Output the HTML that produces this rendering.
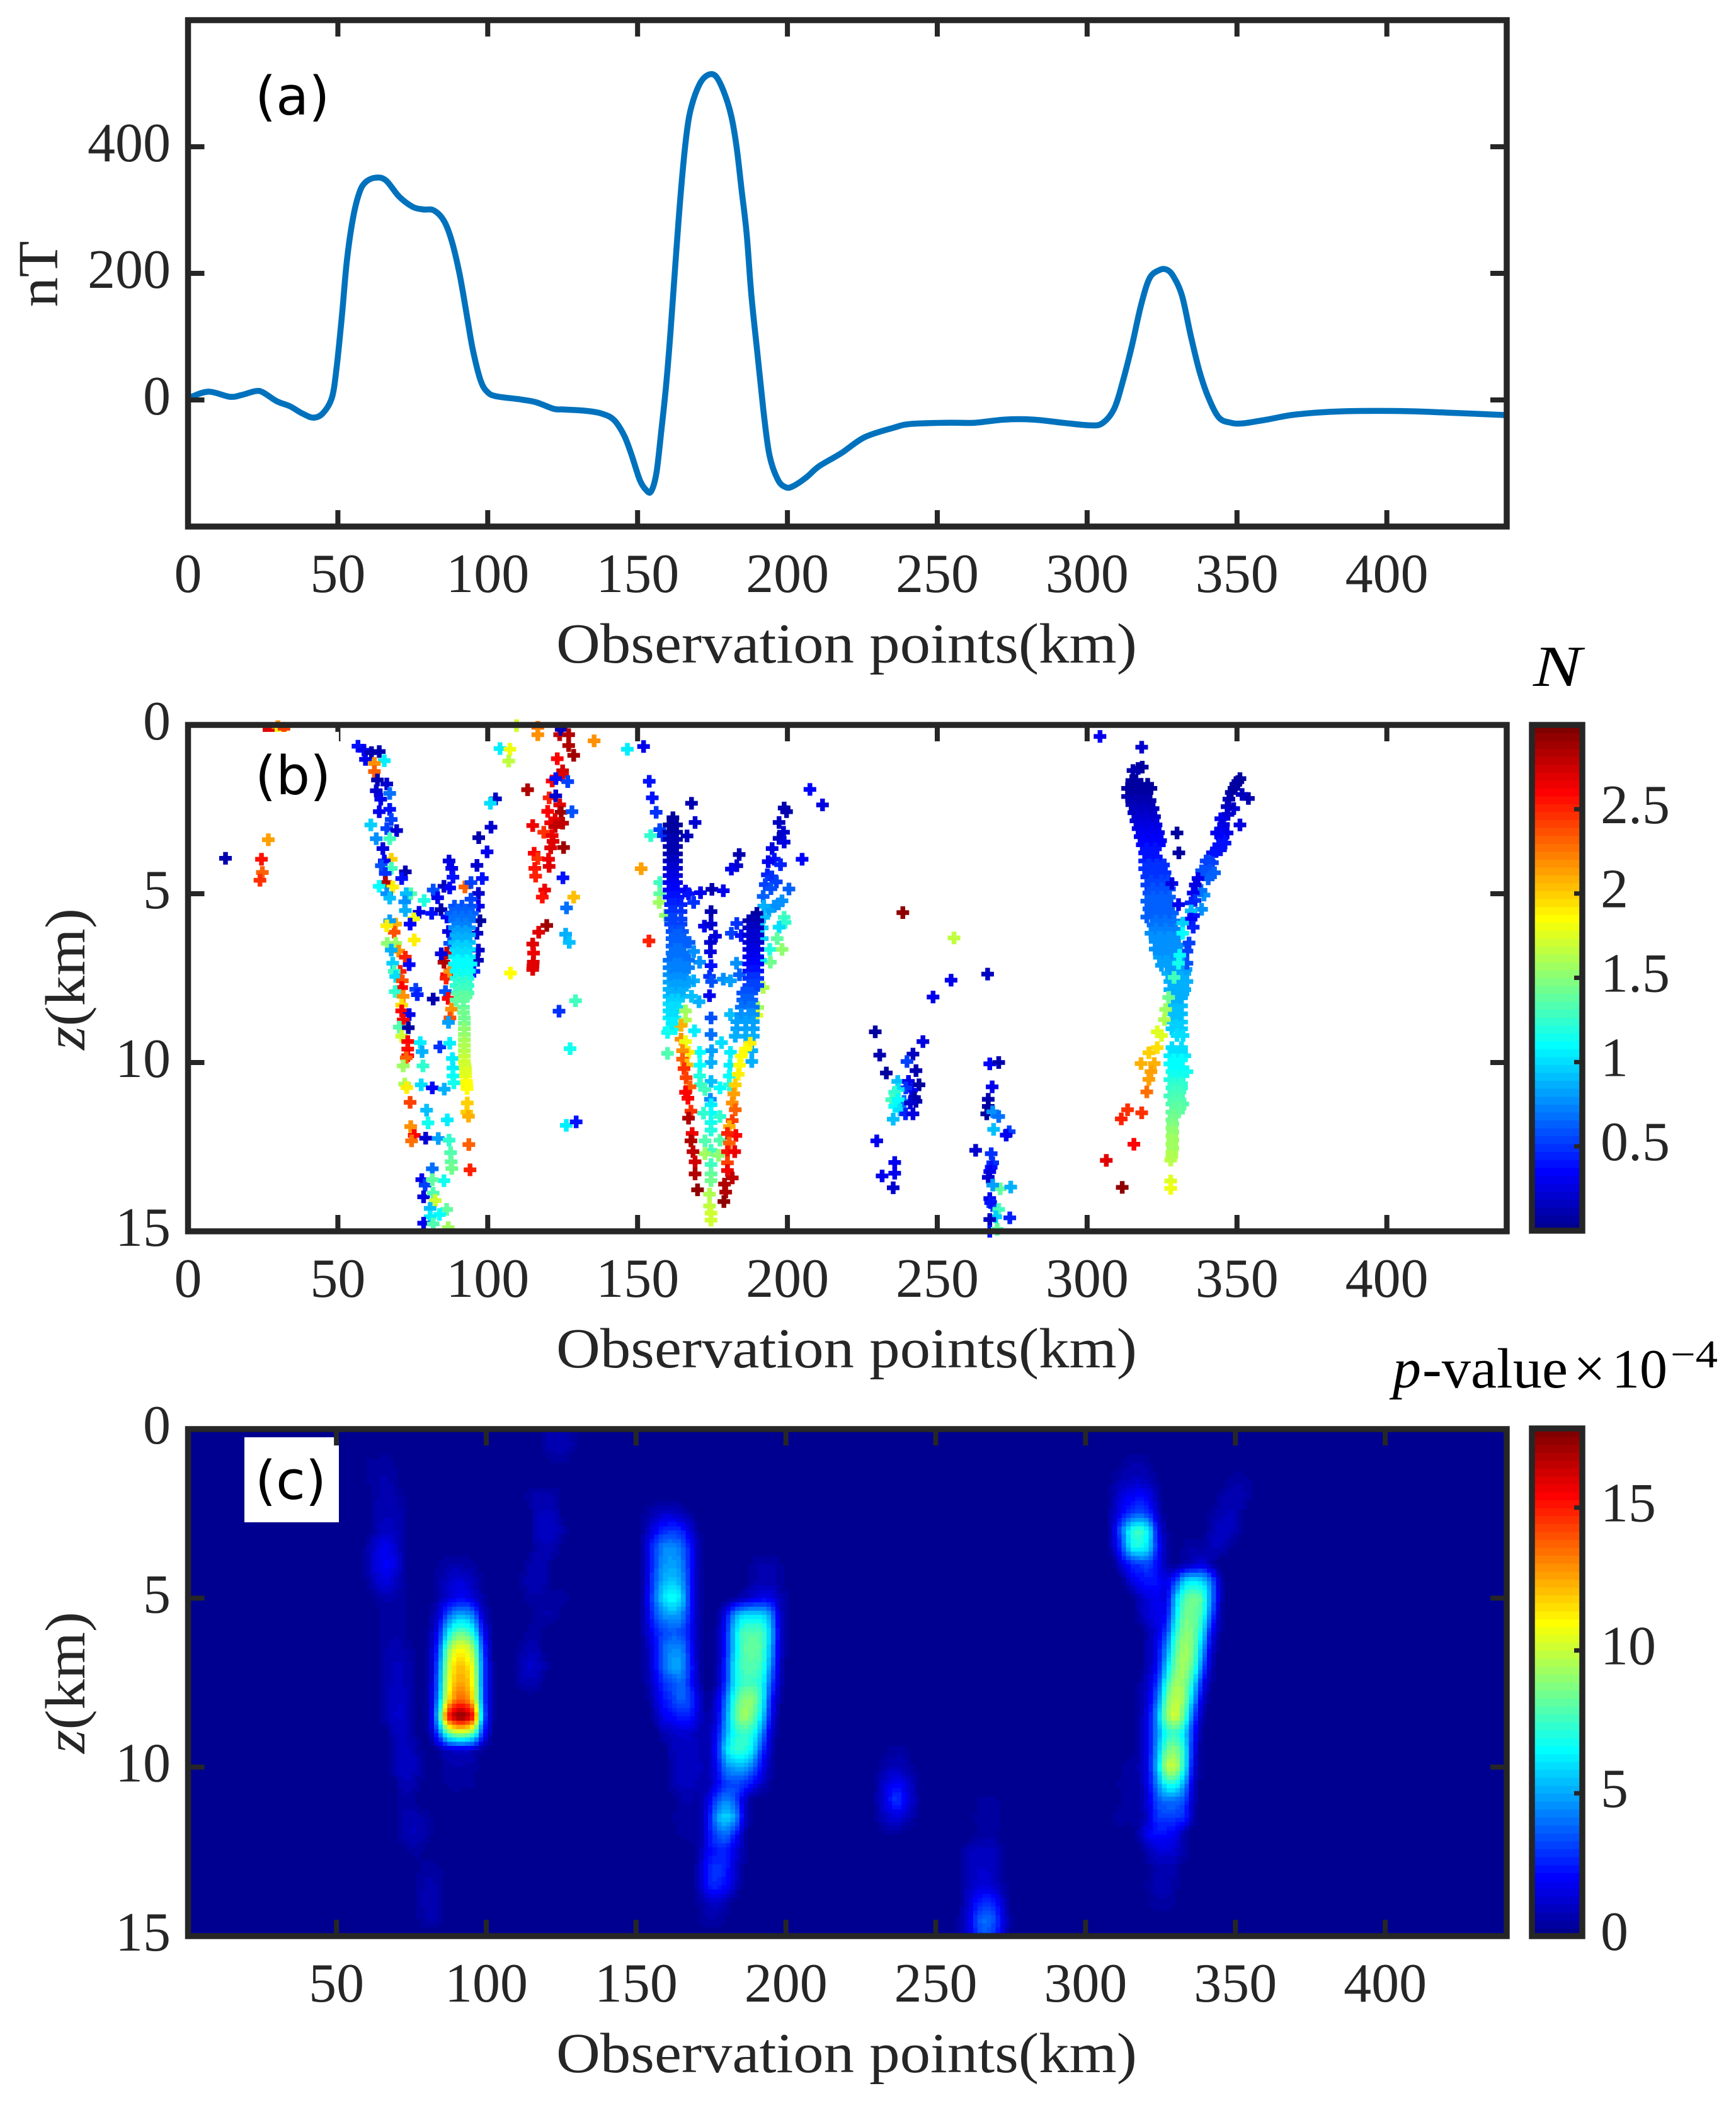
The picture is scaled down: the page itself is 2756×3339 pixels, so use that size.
<!DOCTYPE html>
<html lang="en">
<head>
<meta charset="utf-8">
<title>Magnetic anomaly profile and depth solutions</title>
<style>
html,body{margin:0;padding:0;background:#fff}
svg{display:block}
text{font-family:"Liberation Serif",serif;fill:#262626}
.tick{font-size:88px}
.axl{font-size:90px}
.pl{font-family:"DejaVu Sans",sans-serif;font-size:85px;fill:#000}
.blk{fill:#000}
</style>
</head>
<body>
<svg id="fig" xmlns="http://www.w3.org/2000/svg" width="2756" height="3339" viewBox="0 0 2756 3339">
<defs><clipPath id="clipC"><rect x="298.5" y="2269" width="2094" height="805"/></clipPath></defs>
<rect width="2756" height="3339" fill="#fff"/>
<g id="panelA"></g>
<g id="panelB"></g>
<g id="panelC"></g>
<g id="cbarB"></g>
<g id="cbarC"></g>

<text class="axl" text-anchor="middle" transform="translate(91,435) rotate(-90)" textLength="105" lengthAdjust="spacingAndGlyphs">nT</text>
<text class="axl" x="883" y="1052" textLength="922" lengthAdjust="spacingAndGlyphs">Observation points(km)</text>
<text class="axl" x="883" y="2171" textLength="922" lengthAdjust="spacingAndGlyphs">Observation points(km)</text>
<text class="axl" x="883" y="3290" textLength="922" lengthAdjust="spacingAndGlyphs">Observation points(km)</text>
<text class="axl" transform="translate(134,1667) rotate(-90)" textLength="225" lengthAdjust="spacingAndGlyphs"><tspan font-style="italic">z</tspan>(km)</text>
<text class="axl" transform="translate(134,2784) rotate(-90)" textLength="225" lengthAdjust="spacingAndGlyphs"><tspan font-style="italic">z</tspan>(km)</text>

<text class="pl" x="405" y="182">(a)</text>
<text class="blk" x="2434" y="1089" font-size="92" font-style="italic" textLength="77" lengthAdjust="spacingAndGlyphs">N</text>
<g>
<text class="blk" x="2211" y="2203" font-size="90" font-style="italic">p</text>
<text class="blk" x="2258" y="2203" font-size="90" textLength="231" lengthAdjust="spacingAndGlyphs">-value</text>
<text class="blk" x="2498" y="2203" font-size="90">×</text>
<text class="blk" x="2559" y="2203" font-size="88">10</text>
<text class="blk" x="2652" y="2171" font-size="62" textLength="75" lengthAdjust="spacingAndGlyphs">−4</text>
</g>
</svg>
<script>
/* ---------- panel (a) data ---------- */
const curveKm = [0,1.4,7,14,18,22.6,25,29.6,34,38,41.8,45,48,49.6,51.4,53,55,57,59,62.4,66,70.5,75,78.4,82,85.4,88,90.6,93.2,95,97.6,100,103,110,116,122,125.4,132.4,137.6,142,145.5,148,150.7,152.8,154.5,156.3,158,159.4,161,162.9,164.6,166.4,168,170.7,173.3,176,178.6,181.2,183,184.7,186.4,188,190,192,194,196.8,199.5,202,206.4,210.5,218,225.7,235.4,241,253,262.6,272.4,282,291.8,300.6,305,309,312,315,318,320.8,324,326.5,328.8,331.7,334.6,337.5,340.5,344,348,352,360,369.6,385,404.6,420,440];
const curveNT = [3,5.6,13,5,8,14,12,-2,-10,-21,-28,-21,3.5,52,136,220,286,325,343,351,347,321,305,301,299.5,283,251,199,129,80,31,12,5.6,1.4,-3.5,-14,-15,-17,-21,-31,-56,-87,-126,-142,-144.5,-115,-45,17,108,234,338,422,464,499,513,512,489,450,401,332,262,164,73,-17,-87,-126,-138,-136,-122,-105,-84,-59,-44,-38,-36,-36,-31,-31,-36,-40,-37,-14,31,87,150,192,205,206,195,164,101,45,3.5,-28,-36,-37,-31,-23,-18,-17.5,-20,-24];
const xTicksAB = [0,50,100,150,200,250,300,350,400];
const yTicksA = [0,200,400];
const xTicksC = [50,100,150,200,250,300,350,400];
const zTicks = [0,5,10,15];
const nTicks = ['0.5','1','1.5','2','2.5'];
const pTicks = ['0','5','10','15'];

/* ---------- panel (b) data : [km, depth, N] ---------- */
const straySources = [
[27,.15,2.7],[30,.05,2.2],[31,.15,1.8],[32,.1,2.4],[12.5,3.95,.1],[26.8,3.4,2.15],[24.5,3.98,2.55],[24.8,4.37,2.3],[24,4.6,2.45],
[56.7,.63,.4],[58.7,.75,.3],[59.2,1.02,.3],[61.2,.82,.1],[63.8,.79,.1],[65.5,1.06,1.05],[62.2,1.14,2.2],[62.2,1.38,2.3],[63.2,1.63,.1],[66.3,1.75,.2],[62.8,1.95,.2],[67.3,2.03,.7],[64.3,2.2,.3],[63.8,2.57,.3],[67.3,2.5,.4],[67.8,2.8,.55],[61,2.96,.95],[66.3,3.07,.55],[69.6,3.13,.2],[62.8,3.37,.75],[67.3,3.37,1.3],[65,3.66,.25],[67.8,3.98,2],[65.5,4.03,.35],[64.5,4.17,.6],[67.8,4.25,1.3],[65.8,4.4,.5],[72.5,4.35,.1],[71.3,4.55,.4],[65.9,4.67,2.85],[68.3,4.8,1.9],[63.8,4.78,1.1],[66.3,5,.75],[67.3,5.13,.9],[74.3,5,1.35],[72.8,5,.9],[72.3,5.24,.75],[72.5,5.5,.85],[78.8,5.2,1.2],[77.1,5.55,.3],[69.3,5.9,2.1],[67.3,5.8,.8],[68.8,6.14,2.35],[66.3,5.95,1.9],[75.3,5.74,1.8],[74.1,5.9,.35],[75.5,6.37,1.9],[69.3,6.47,1.55],[66.5,6.47,1.5],[70.3,6.7,2.2],[67.8,6.67,.85],[72.5,6.88,2.5],[68.3,7.06,.95],[73.8,7.1,.35],[70.8,7.3,2.5],[68.8,7.3,1.3],[69.3,7.45,1],[71.5,7.58,2.35],[71.3,7.78,2.6],[69.1,7.9,1.25],[71.8,8.04,2.2],[71.3,8.3,1.95],[71.3,8.47,2.6],[73.8,8.58,.3],[71.8,8.74,2.6],[70.5,8.95,1.35],[73.5,8.97,.08],[71.3,9.22,1.7],[73.3,9.38,2.6],[73.3,9.6,2.55],[73.3,9.8,2.6],[72.8,9.86,2.3],[71.8,10.1,1.55],[78.4,10.1,1.25],[72.3,10.64,1.6],[73,10.74,1.9],[74.1,11.18,2.4],[74.3,11.9,2.2],[75.5,12.16,2.6],[74.6,12.32,2.25],[77.5,9.41,1.05],[78.1,9.68,.85],[84,9.54,.5],[87.3,9.43,1.05],[77.8,10.66,1],[81.5,10.75,.35],[85.5,10.79,.85],[79.6,11.41,.9],[80.1,11.79,1.15],[86.5,11.7,1.05],[79.3,12.24,.2],[83.5,12.25,.8],[87.1,12.3,1.25],[87.6,12.67,1.35],[87.8,12.94,1.4],[88,13.14,1.45],[93.7,12.43,2.3],[94.1,13.18,2.5],[81.5,13.15,.7],[78,13.47,.3],[79.1,13.63,.55],[85.4,13.5,1.15],[81.5,13.47,1.4],[78.6,13.98,.25],[81.8,13.87,1.35],[82.5,14.09,1.7],[80.8,14.32,.9],[86.3,14.35,1.4],[83.9,14.5,1.1],[80.8,14.57,1.05],[78.6,14.76,.3],[81.8,14.78,1.35],[86.8,14.89,1.55],
[87.1,4.03,.25],[88,4.25,.3],[88.4,4.51,.4],[85.4,4.78,.15],[87.3,4.83,.35],[81.8,4.89,.6],[83.3,5.12,.3],[81.3,5.58,.4],[84.4,5.47,.1],[86.4,5.69,.35],[92.4,4.8,2.3],[94.4,4.67,.55],[96.9,4.99,.2],[98.2,4.55,.4],[96.4,4.16,.2],[94.4,5.16,.55],[96.9,5.37,.3],[97.4,5.8,.08],[96.4,6.17,.2],[96.9,6.67,.2],[96.6,6.97,.15],[95.4,7.3,.45],[86.9,6.12,.25],[87.3,6.47,.6],[85.4,7.03,2.85],[86.3,6.76,2.75],[84.5,6.78,.25],[86.3,7.4,2.6],[86.1,7.5,2.5],[87.3,7.3,2.2],[76,7.83,.55],[76.5,7.99,.45],[81.8,8.12,.1],[85.9,7.9,.6],[86.8,8.1,2.6],[87.9,8.42,2.2],[87.4,8.68,2.35],[86.9,8.81,.8],
[88.2,9.88,1.05],[88.4,10.16,1.05],[88.4,10.4,1.1],[88.7,10.6,1.15],
[102.6,2.19,.15],[100.9,2.32,1],[101.1,3.03,.2],[97,3.34,.1],[99.8,3.76,.3],
[109.6,.02,1.7],[104.1,.7,1.05],[107.4,.72,1.8],[107,1.07,1.65],[107.6,7.35,1.87],[116.7,.07,2.25],[116.7,.29,2.2],[124,.29,2.8],[124.5,.13,.15],[127,.29,2.85],[127,.61,2.85],[128.7,.9,2.9],[123.2,1,2.6],[135.5,.47,2.2],[146.6,.72,1.05],[152,.64,.3],[113.3,1.92,2.85],[125,1.36,2.75],[125,1.5,2.7],[121.5,1.66,2.6],[122.7,1.59,.4],[126.7,1.68,.55],[120.5,2.16,2.5],[122.7,2.1,.2],[124,2.37,2.7],[120,2.56,2.6],[124.5,2.59,2.9],[128.1,2.57,.6],[122.5,2.8,2.7],[125,2.91,2.8],[121,2.9,2.65],[122.5,3.01,2.8],[115,2.98,2.65],[118.7,3.18,2.45],[121.5,3.28,2.65],[121.8,3.45,2.7],[121,3.64,2.7],[125.3,3.63,2.9],[115.5,3.8,2.6],[116.7,3.96,2.45],[120.3,3.98,2.65],[120.5,4.19,2.7],[115.7,4.25,2.55],[116,4.48,2.5],[125.1,4.53,.4],[128.7,5.1,2.05],[126.3,5.42,.7],[119,4.89,2.65],[118.2,5.1,2.55],[119.7,5.94,2.9],[117,6.14,2.7],[115,6.49,2.7],[115.3,6.76,2.65],[115.2,7.03,2.7],[115.1,7.14,2.7],[115,7.24,2.7],[126,6.2,.85],[127.2,6.44,.9],[129.3,8.17,1.3],[123.8,8.48,.5],[127.5,9.59,1.15],[126.2,11.86,1.05],[129.5,11.76,.4],
[153.9,1.67,.4],[154.9,2.16,.4],[156.2,2.59,.5],[157.4,3.1,.55],[158.5,3.28,.5],[154.4,3.28,1.25],[151.2,4.26,2.15],[157.4,4.67,1.3],[157.4,5,1.4],[157.2,5.26,1.55],[159.3,5.64,1.5],[153.8,6.4,2.5],
[168,2.32,.1],[169.2,2.89,.2],[166.5,3.29,.15],[183.9,3.84,.1],[183.1,4.17,.2],[181.3,4.27,.3],[166,4.92,.3],[167,5,.4],[171,4.97,.3],[168.7,5.26,.5],[174.8,4.87,.1],[178.6,4.91,.3],[174.5,5.53,.1],[172.3,5.96,.3],[174.5,5.9,.2],[176,6.26,.25],[174.3,6.44,.2],[174.3,6.72,.25],[167.2,6.44,.65],[168.7,6.71,.75],[170.7,7.03,.75],[174.5,7.13,.4],[174,7.45,.5],[174.7,7.6,.6],[168.7,7.58,.85],[174,8.02,.3],[178.6,7.53,.75],[181,7.58,.8],[183,7.06,.75],[184,7.4,.65],[181.3,6.17,.55],[183.1,5.88,.5],[184.6,6.24,.4],[174.5,8.68,.6],[181,8.58,.9],[170.5,8.2,.85],[174.5,9.17,.7],[169,9.06,1.05],[178,9.41,1],[174.7,9.65,.8],[170.7,9.7,1.1],[181,9.7,1.05],[174.5,10,.85],[170.8,10.08,1.1],[180.8,10.08,1.05],[170.7,10.4,1.2],[174.5,10.56,.9],[180.6,10.4,1.1],[171,10.66,1.25],[177.5,10.75,1.1],[180.6,10.66,1.2],[172.5,10.8,1.3],[174.3,11.09,.75],[174.5,11.25,1.05],[174.5,11.5,1.1],[172,11.5,1.25],[177.5,11.6,1.25],[174.5,11.78,1.15],[174.5,12,1.2],[172.5,12.32,1.35],[177.5,12.3,1.35],[174.5,12.6,1.3],[172.5,12.7,1.55],[177,12.75,1.5],[174.5,13.02,1.3],[174.5,13.3,1.4],[174.5,13.5,1.45],[174,13.9,1.6],[174,14.25,1.65],[174.5,14.46,1.7],[174.5,14.67,1.7],
[198.9,2.46,.1],[199.7,2.57,.1],[197.2,2.89,.15],[198.7,3.18,.2],[197.2,3.36,.15],[198.9,3.47,.25],[194.9,3.66,.25],[195.6,3.98,.4],[193.6,4.05,.3],[197.7,4.14,.45],[193.3,4.44,.45],[194.8,4.5,.5],[196.3,4.65,.55],[192.6,4.73,.55],[194.5,4.85,.6],[200.5,4.86,.65],[191.9,5.08,.65],[198.2,5.21,.75],[195.6,5.37,.75],[197,5.3,.75],[193.8,5.5,.8],[204.9,3.98,.35],[207.5,1.91,.35],[211.7,2.37,.25],[198.9,5.7,1.3],[199.2,5.85,1.25],[197.2,5.99,1],[196.6,6.33,1.4],[194.1,6.65,1.2],[198.2,6.65,1.5],[194.3,7.03,1.45],[191.9,7.78,1.6],[190.1,8.37,1.55],[189.8,8.6,1.75],[192.1,5.37,.85],[192.1,5.7,.9],[191.6,6.01,.95],[191.6,6.33,.95],[191.1,6.97,1.05],
[238.5,5.56,2.95],[255.6,6.31,1.65],[254.6,7.56,.3],[266.8,7.38,.15],[248.6,8.06,.3],[229.3,9.09,.08],[245.2,9.38,.25],[230.8,9.78,.1],[241.9,9.75,.15],[239.9,9.97,.55],[242.9,10.24,.1],[233,10.31,.08],[236.8,10.56,.9],[240.4,10.56,.3],[243.9,10.66,.08],[241.4,10.82,.3],[242.4,11.04,.1],[239.5,10.75,.5],[237,10.8,1],[235.8,10.88,1.25],[234.8,11.1,1.3],[238.9,11.15,.7],[237,11.1,1.1],[242.9,11.15,.12],[241,11.2,.2],[235.8,11.3,1.1],[237.5,11.4,1],[239.4,11.52,.45],[241.9,11.52,.25],[235.3,11.68,.9],[229.8,12.32,.3],[235.8,12.96,.3],[235.8,13.28,.3],[231.6,13.36,.3],[235.3,13.71,.2],
[267.5,10.04,.35],[270.5,10,.1],[268.3,10.72,.3],[267,11.09,.1],[267,11.3,.08],[266.5,11.52,.08],[268.5,11.46,.75],[270.5,11.6,.7],[268.8,11.98,.9],[274,12.05,.55],[273,12.15,.3],[262.8,12.6,.2],[268,12.7,.5],[268.5,12.97,.5],[268,13.1,.4],[267.5,13.23,.3],[267,13.4,.2],[271,13.74,1.4],[268.5,13.63,.8],[274.5,13.69,.85],[267.5,14.03,.3],[268.5,14.24,.55],[267.8,14.15,.4],[270.5,14.35,1.3],[269.5,14.57,.95],[274.2,14.6,.45],[267.5,14.65,.15],[267.5,15,.4],[270,14.94,1.4],
[304.3,.34,.3],[318.2,.66,.2],[317,1.29,.1],[318.4,1.25,.08],[315.3,1.35,.1],[330,3.2,.08],[330.6,3.79,.08]
];
/* rows of solutions at one depth and one N : [depth, N, [km...]] */
const denseRows = [
[2.75,.08,[161.8]],[2.96,.08,[160.5,161.8,163]],[3.18,.08,[160.5,161.8,163]],[3.39,.1,[160.5,161.8,163]],[3.6,.1,[160.5,161.8,163]],[3.82,.12,[160.5,161.8,163]],[4.03,.15,[160.5,161.8,163]],[4.25,.2,[160.5,161.8,163]],[4.46,.25,[160.5,161.8,163]],[4.67,.3,[160.5,161.8,163]],[4.89,.35,[160.5,161.8,163.3]],[5.1,.4,[160.5,161.8,163.5]],
[5.32,.45,[161,162.5,164.5]],[5.53,.5,[161,162.5,164.5]],[5.75,.52,[161,162.5,164.5]],[5.9,.55,[161,162.5,164.5]],[6.12,.6,[161.5,163.5,165]],[6.33,.62,[161.5,163.5,165]],[6.55,.65,[161.5,163.5,165]],[6.76,.68,[161.5,163.5,165]],[6.97,.7,[160.5,163.5,165,167]],[7.19,.72,[160.5,163.5,165,167]],[7.4,.75,[160.5,163.5,165]],[7.62,.8,[160.5,163.5,165,167]],[7.83,.85,[160.5,162.5,165]],[8.04,.9,[160.5,163.5,165,168]],[8.26,1,[160.5,162.5]],[8.47,1,[160.5,162.5]],[8.68,1.05,[160.5,162.5]],[9,1.1,[160.5,162.5]],
[6.23,.61,[162.5,164.2]],[6.44,.64,[162.5,164.2]],[6.65,.66,[162.5,164.2]],[6.87,.69,[162.5,164.2]],[7.08,.71,[162.5,164.2]],[7.3,.74,[162.5,164.2]],[7.51,.78,[162.5,164.2]],[7.72,.82,[162.5,164.2]],[7.94,.87,[161.5,164]],[8.15,.95,[161.5,163.5]],[8.37,1,[161.5,163.5]],[8.58,1.02,[161.5]],[8.84,1.08,[161.5]],
[5.58,.08,[189.8]],[5.8,.1,[187.1,188.6,190.1]],[6.01,.15,[187.1,188.6,190.1]],[6.22,.2,[187.1,188.6,190.1]],[6.44,.22,[187.1,188.6,190.1]],[6.65,.27,[187.1,188.6,190.1]],[6.87,.3,[187.1,188.6,190.1]],[7.08,.35,[187.1,188.6,190.1]],[7.29,.4,[187.1,188.6,190.1]],[7.51,.5,[187.1,188.6,190.1]],[7.72,.55,[187.1,188.6,190.1]],[7.94,.6,[185.1,186.6,188.1]],[8.15,.65,[185.1,186.6,188.1]],[8.36,.7,[184.6,187.1,188.6]],[8.58,.75,[184.6,187.1,188.6]],[8.79,.8,[183.1,186.1,188.6]],[9,.8,[183.1,186.1,188.6]],[9.22,.85,[182.6,186.1,188.6]],[9.65,.85,[188.1]],[9.97,.85,[188.1]],
[5.37,.6,[88.9,91.4,94.4]],[5.58,.65,[87.9,90.4,92.9,94.9]],[5.8,.7,[88.9,91.4,93.9]],[6.01,.78,[88.9,91.4,93.9]],[6.22,.85,[89.4,91.6,93.9]],[6.44,.92,[88.9,91.6,93.9]],[6.65,1,[89.4,91.9,93.9]],[6.87,1.05,[88.9,91.9,93.9]],[7.08,1.12,[88.9,91.9,94.4]],[7.29,1.12,[89.4,91.9,93.9]],[7.51,1.2,[89.4,91.9,93.4]],[7.72,1.25,[89.4,91.9,93.4]],[7.94,1.35,[89.9,91.9,93.4]],[8.15,1.4,[89.4,91.9]],[8.36,1.4,[91.9]],[8.52,1.45,[91.9]],[8.68,1.45,[92.2]],[8.84,1.45,[92.2]],[9,1.5,[92.2]],[9.17,1.5,[92.2]],[9.33,1.55,[92.2]],[9.49,1.6,[92.2]],[9.65,1.6,[92.2]],[9.81,1.65,[92.2]],[9.97,1.7,[92.2]],[10.18,1.75,[92.6]],[10.4,1.8,[92.6]],[10.56,1.85,[92.9]],[10.77,1.87,[93.1]],[11.2,2,[93.2]],[11.47,2,[93]],[11.59,2.1,[93.6]],
[5.48,.62,[90,92.5]],[5.69,.68,[89,91.5,94]],[5.9,.74,[90,92.6]],[6.12,.82,[90,92.6]],[6.33,.88,[90,92.8]],[6.55,.96,[90,92.8]],[6.76,1.02,[90,92.8]],[6.98,1.08,[90,93]],[7.19,1.12,[90,93]],[7.4,1.15,[90.5,93]],[7.62,1.22,[90.5,92.8]],[7.83,1.3,[90.5,92.8]],[8.05,1.37,[90.8,92.8]],[10.08,1.72,[92.4]],[10.3,1.78,[92.6]],[10.66,1.86,[93]],
[1.65,.08,[314.9,316.3]],[1.88,.08,[313.5,316.3,319.2,321.3]],[2.12,.1,[313.5,316.3,319.2]],[2.36,.12,[314.9,317.7,320.6]],[2.6,.18,[315.6,318.4,321.3]],[2.84,.22,[316.3,319.2,322]],[3.07,.28,[317,319.9,322.7]],[3.31,.32,[317.7,320.6,323.4]],[3.55,.35,[318.4,321.3,324.1]],[3.79,.4,[319.2,322]],[4.03,.45,[319.2,322,324.4]],[4.26,.5,[319.2,322,324.8]],[4.5,.5,[319.9,322.7,325.5]],[4.74,.55,[319.9,323.4,326.2]],[4.98,.6,[320.6,323.4,326.2]],[5.22,.62,[319.9,323.4,326.2]],[5.45,.65,[320.6,324.1,326.9]],[5.69,.65,[319.9,323.4,327.6]],[5.93,.7,[322,324.8,327.6]],[6.17,.75,[321.3,324.8,328.3]],[6.41,.75,[322.7,326.2,329]],[6.64,.78,[322.7,326.2,329.8]],[6.88,.8,[324.1,327.6]],[7.12,.82,[324.8,328.3]],[7.36,.85,[326.9,329.8,332.6]],[7.6,.85,[327.6,330.5,333.3]],[7.84,.85,[327.6,330.5,332.6]],[8.08,.87,[328.3,331.5]],[8.32,.9,[328.3,331.5]],[8.56,.92,[328.3,331.5]],[8.8,.95,[328.3,331.5]],[9,.98,[328.3,331.5]],
[1.76,.08,[315.6,318,320.2]],[2,.09,[315,317.7,320]],[2.24,.11,[315.2,318,321]],[2.48,.15,[316,319,322]],[2.72,.2,[317,319.8,322.5]],[2.96,.25,[317.7,320.5,323]],[3.19,.3,[318.4,321.2,323.8]],[3.43,.33,[319,322,324.5]],[3.67,.38,[319.8,322.7]],[3.91,.42,[320.6,323]],[4.15,.47,[320.6,323.2,325.5]],[4.38,.5,[320.6,323.4,326]],[4.62,.52,[321.3,324.8,327]],[4.86,.57,[322,324.8,327.5]],[5.1,.61,[322,324.8,327.5]],[5.33,.63,[322,324.8,328]],[5.57,.65,[321.5,325.5,328.5]],[5.81,.68,[323,326,329]],[6.05,.72,[323,326.2,329.5]],[6.29,.75,[324,327,330]],[6.52,.77,[324,327.5,330.5]],[6.76,.79,[325.5,328.5,331]],[7,.81,[326.2,329.5,332]],[7.24,.84,[328,331,333]],[7.48,.85,[329,331.5]],[7.72,.85,[329,331.5]],[7.96,.86,[329.5,332]],[8.2,.88,[329.8]],[8.44,.91,[329.8]],[8.68,.93,[329.8]],[8.9,.96,[329.8]],[9.2,.99,[330,332]],
[9.56,1,[328.3,331.5]],[9.8,1.05,[327.6,330.5,332.6]],[10.04,1.1,[327.6,330.5]],[10.27,1.15,[328.3,331.9,333.3]],[10.51,1.2,[327.6,330.5]],[10.75,1.25,[328.3,331.5]],[10.99,1.3,[327.6,330.5]],[11.23,1.35,[328.3,331.9]],[11.47,1.4,[328.3,330.5]],[11.7,1.45,[328.3]],[11.94,1.5,[328.3]],[12.18,1.55,[328.3]],[12.42,1.55,[328.3]],[12.66,1.6,[328.3]],[12.89,1.65,[327.9]],[13.51,1.75,[327.9]],[13.73,1.8,[327.9]],
[9.68,1.03,[329.5,331.5]],[9.92,1.08,[329,331.5]],[10.16,1.12,[329,331.5]],[10.39,1.17,[329.5,332]],[10.63,1.22,[329,331.5]],[10.87,1.27,[329,331]],[11.11,1.32,[329,331]],[11.35,1.37,[329.5,331]],[11.58,1.42,[329]],[11.82,1.47,[328.6]],[12.06,1.52,[328.6]],[12.3,1.55,[328.6]],[12.54,1.58,[328.6]],[12.78,1.62,[328.3]]
];
/* solutions that sit on top of the dense columns */
const overlaySources = [
[166,8.47,1.55],[166,8.74,1.6],[164.5,8.9,2.1],[164.5,9.31,2.2],[166,9.38,1.8],[167,9.7,1.9],[165,9.65,2.2],[165,9.9,2.3],[166.5,10.07,2.05],[165.5,10.18,2.45],[166.2,10.45,2.4],[167.5,10.72,2.3],[166,10.88,2.6],[166.8,11.06,2.6],[167.8,11.44,2.45],[167,11.65,2.85],[168.2,12.1,2.65],[167.8,12.32,2.85],[168.5,12.64,2.8],[169.2,12.94,2.75],[169.2,13.3,2.85],[170,13.77,2.95],[160,9.11,1.15],[160,9.73,1.35],[161.5,8.84,1.05],
[187.6,9.43,1.9],[186,9.6,1.87],[184.6,9.81,1.85],[184,10.08,1.87],[183.6,10.35,1.9],[182.6,10.66,2],[182.1,10.93,2.15],[181.6,11.2,2.2],[182.6,11.4,2.3],[181.6,11.72,2.4],[180.6,11.9,2.1],[182.8,12.16,2.6],[180,12.1,2.5],[180.6,12.38,2.3],[180,12.64,2.55],[182.4,12.64,2.65],[180,12.97,2.4],[180,13.2,2.65],[181.6,13.42,2.8],[179,13.6,2.85],[179.4,13.84,2.85],[178.8,14.12,2.95],
[351,1.59,.08],[350.3,1.68,.08],[349.6,1.76,.08],[349,1.88,.08],[348.1,2,.08],[353.8,2.18,.1],[351.7,2.06,.15],[347.3,2.2,.1],[348.9,2.48,.2],[346.7,2.42,.15],[347,2.65,.2],[351,2.96,.25],[344.6,2.78,.3],[345.5,2.95,.28],[343.2,3.2,.3],[346.7,3.2,.3],[344.5,3.1,.3],[345,3.35,.35],[343.9,3.55,.4],[346,3.5,.4],[344.5,3.7,.4],[343,3.75,.42],[341.8,3.79,.4],[339.7,4.03,.55],[341.8,4.08,.55],[340.8,4.05,.55],[338.2,4.32,.6],[339.5,4.35,.6],[341,4.3,.6],[342.5,4.38,.65],[340.4,4.56,.65],[339,5.04,.75],[338,4.9,.7],[338.2,5.46,.75],[337,4.55,.3],[336.1,4.74,.25],[335.4,4.98,.3],[336,5.2,.5],[334.7,5.27,.45],[335.5,5.65,.4],[334.7,5.51,.9],[334.7,5.75,.35],[335.4,5.99,.45],[334,6.46,.55],[333.3,6.7,.55],[333.3,7.06,.6],[331.9,5.87,.95],[331.9,6.17,1.1],[330.9,6.82,1.1],[330.5,7.06,1.15],[329,7.48,1.3],[327.2,8.07,1.45],[326.2,8.43,1.55],[325.8,8.73,1.6],[328.3,4.7,.25],[330.5,5.32,.3],
[323.4,9.09,1.75],[324.8,9.2,1.75],[323.4,9.56,1.95],[320.6,9.71,2],[318,10.03,2.1],[322.4,10.03,2.1],[321.3,10.27,2.15],[320.6,10.5,2.15],[319.9,10.87,2.25],[313.5,11.4,2.45],[318.2,11.49,2.45],[311.4,11.67,2.5],[315.6,12.42,2.6],[306.4,12.9,2.7],[311.7,13.7,2.95]
];

/* ---------- panel (c) data : [depth, first km, [values every 3 km]] ---------- */
const heatSegments = [
[4,84,[.3,.5,.6,.5,.3]],[4.5,84,[.5,1,1.4,1.3,.8,.3]],[5,84,[.6,1.2,1.8,1.9,1.2,.4]],[5.5,81,[.3,1.2,3.5,5,5,4,1,.2]],[6,81,[.4,2,6,8,8,6.5,2,.3]],[6.5,81,[.5,3,8.5,10.8,10.8,9,3,.3]],[7,81,[.5,3.8,9.5,12,12,10,3.5,.4]],[7.5,81,[.5,4,10,12.5,12.5,10.5,3.5,.4]],[8,81,[.5,4.5,11,13.5,13.5,11,3.5,.4]],[8.5,81,[.5,6,15,17.7,17.7,15,4,.4]],[9,81,[.4,3.5,8,9.5,9.5,8,2.5,.3]],[9.5,84,[.3,.8,1,1,.7,.2]],[10,87,[.5,.5,.5,.4]],[10.5,87,[.4,.5,.4,.3]],
[1,60,[.3,.4,.5,.3]],[1.5,60,[.3,.5,.6,.5]],[2,63,[.5,.7,.6,.4]],[2.5,63,[.5,.8,.8,.5]],[3,63,[.6,1,.9,.5]],[3.5,60,[.4,1.3,1.9,1.4,.6]],[4,60,[.5,1.5,2.1,1.8,.7]],[4.5,60,[.3,1.1,1.6,1.2,.5]],[5,63,[.4,.6,.6,.4]],[5.5,66,[.4,.5,.5]],[6,66,[.4,.5,.5]],[6.5,66,[.5,.7,.6,.4]],[7,66,[.6,.9,.9,.5]],[7.5,66,[.5,.9,.9,.5]],[8,66,[.6,1,1.1,.7]],[8.5,66,[.6,1.1,1.2,.7]],[9,69,[.8,.9,.6]],[9.5,69,[.6,1,.9,.4]],[10,69,[.7,1.1,1.1,.5]],[10.5,72,[.8,.7,.3]],[11,72,[.5,.4]],[11.5,72,[.6,.8,.7,.4]],[12,72,[.6,.9,.8,.4]],[12.5,75,[.4,.3]],[13,78,[.3,.5,.4]],[13.5,78,[.5,.7,.5]],[14,78,[.5,.8,.7]],[14.5,78,[.4,.7,.5]],
[0,120,[.5,.7,.7,.4]],[.5,120,[.6,.8,.8,.5]],[1,123,[.3,.3]],[2,114,[.5,.7,.7,.6]],[2.5,117,[.8,.9,.8]],[3,117,[.9,1.1,1,.5]],[3.5,117,[.7,.8,.6]],[4,114,[.5,.7,.6]],[4.5,111,[.4,.7,.8,.5]],[5,114,[.5,.5,.5,.5,.5]],[5.5,117,[.5,.6,.5]],[6,114,[.4,.4]],[6.5,111,[.4,.7,.7]],[7,111,[.7,1.2,1.1,.5]],[7.5,111,[.5,.8,.7]],
[2.5,153,[.4,.8,1.2,1.2,.8,.3]],[3,153,[.6,1.8,2.7,3,2.7,1.5,.3]],[3.5,153,[1,3.2,4.4,4.5,4,2.5,.5]],[4,153,[1,3.2,4.6,5,4.5,2.5,.5]],[4.5,153,[1,3.5,5.2,5.5,5,2.6,.5]],[5,153,[1.1,3.8,6,7,6,2.8,.5]],[5.5,153,[1,3.2,4.5,5,4.5,2.5,.5]],[6,153,[.8,2.4,3.2,3.6,3.4,2.2,.4]],[6.5,153,[.5,1.8,3.8,4.5,4.5,2.5,.5]],[7,153,[.5,1.8,3.8,5,5,2.8,.6]],[7.5,153,[.4,1.4,2.8,3.5,4,2.6,.7]],[8,156,[1,2.4,3,3.8,3.2,1.4]],[8.5,156,[.5,1.8,2.2,2.6,2.6,1.3]],[9,159,[.7,1,1.2,1.2,.7]],[9.5,162,[.8,.9,1,.8]],[10,162,[.7,1,1.1,1]],[10.5,162,[.6,.9,1,.7]],[11,165,[.5,.6]],[11.5,162,[.3,.5,.5]],[12,165,[.4,.4]],
[4,189,[.4,.6,.6,.4]],[4.5,189,[.5,.7,.7,.4]],[5,183,[.3,.8,1.3,1.8,1.6,.8,.3]],[5.5,177,[.3,2,5,6,6,6,4.5,1.2]],[6,177,[.4,2.5,6,8,8,8,5.5,1.2]],[6.5,177,[.4,2.5,6,8,8.2,8,5,1.2]],[7,177,[.5,3,6.5,8,8,7.5,4.5,1]],[7.5,177,[.6,3,6.5,7.5,7.5,7,3.5,.8]],[8,177,[1.5,4,7.5,9,9,7,2.5,.5]],[8.5,174,[.4,1.5,4.5,8,9.5,8.5,6,2]],[9,174,[.6,2,5,7,7.5,7,4.5,1.2]],[9.5,174,[.6,2.5,6,7.5,7.5,6,3,.8]],[10,174,[.5,2,4.5,5,5,4,2,.5]],[10.5,174,[.5,1.8,3,3.2,3,2,1,.3]],[11,171,[.3,1.5,3.5,4.5,3.5,1.2]],[11.5,171,[.4,2,5,6,5,1.5]],[12,171,[.3,2,3.5,4,2.5,.6]],[12.5,171,[.5,2,2.5,2.5,1.5,.5]],[13,171,[.8,2.6,3,2.6,1.2,.3]],[13.5,171,[.8,2.4,2.8,2.2,1,.2]],[14,171,[.4,1,1.1,.8]],[14.5,171,[.3,.5,.5,.3]],
[1,312,[.3,.5,.6,.4]],[1.5,309,[.3,.7,.9,1,.8,.3]],[2,309,[.6,1.5,2,2.2,1.8,.6]],[2.5,309,[.8,2,3,3.5,3,1]],[3,309,[1,4,7,7.8,6.5,2,.4]],[3.5,309,[.8,3,6.5,7,6,2.5,.5]],[4,312,[1.5,2.5,3,3.2,2,.7]],[4.5,315,[1.5,2,2.5,2.2,1.5]],[5,318,[.9,1.5,2,1.5]],[5.5,318,[.7,1.5,1.6,1.5]],
[3.5,333,[.4,.6,.4]],[4,333,[.5,.9,1.4,.6]],[4.5,327,[.8,3,6,6.5,6,4,.8]],[5,324,[.8,1.5,5.5,8,8.5,8,4.5,.8]],[5.5,324,[1,2,6,8.5,8.5,7.5,3.5,.5]],[6,321,[.7,1.5,3,7,9,8.5,6.5,2,.4]],[6.5,321,[.8,1.8,4.5,8,9.5,8.5,5,1.2]],[7,321,[.8,2,5.5,8.5,9.5,8,4,.7]],[7.5,318,[.4,1.2,3,7,9.5,9,6.5,2.2,.4]],[8,318,[.5,1.5,4,8.5,10,9,5,1.2]],[8.5,318,[.5,1.8,5,9,10.5,8,3.5,.6]],[9,318,[.6,2,4.5,7,7.5,6,2.5]],[9.5,318,[.6,2,5,8.5,9,7,2]],[10,318,[.6,2,5.5,10,10,7,1.5]],[10.5,318,[.5,1.8,4.5,7,7,5,1]],[11,318,[.4,1.5,3.5,4,4,3.2,.8]],[11.5,318,[.3,1.2,3,3,3,2.8,.6]],[12,318,[.8,2,2.4,2.2,1.8,.4]],[12.5,321,[.8,1.2,1.4,1.2,.6]],[13,321,[.3,.6,.7,.6]],[13.5,321,[.4,.7,.7,.4]],[14,321,[.3,.5,.5,.3]],
[1.5,348,[.3,.5,.4]],[2,345,[.5,.7,.8,.5]],[2.5,342,[.4,.7,.9,.7]],[3,342,[.7,1.2,1,.5]],[3.5,339,[.4,.9,.8,.4]],[4,336,[.4,.6,.4]],
[9.5,234,[.3,.4,.4]],[10,231,[.3,.7,.9,.6,.3]],[10.5,231,[.7,1.6,2.2,1.5,.6]],[11,231,[.8,2,3.2,1.8,.8]],[11.5,231,[.5,1.2,1.4,1,.4]],[12,234,[.3,.3]],
[11,264,[.3,.4,.4]],[11.5,264,[.4,.6,.5]],[12,264,[.3,.4,.3]],[12.5,258,[.3,.8,1.1,1.1,.9,.3]],[13,258,[.3,.8,1.1,1.1,.9,.3]],[13.5,258,[.3,.9,1.2,1.3,1,.4]],[14,258,[.3,1.2,2.5,3,2.3,.9]],[14.5,258,[.4,1.5,3.5,4.2,3.2,1.2]],[15,258,[.4,1.3,3,3.5,2.7,1]],
[10,312,[.3,.5]],[10.5,312,[.4,.5]],[11,312,[.3,.4]],[11.5,309,[.3,.5,.4]]
];

/* ---------- scales ---------- */
const NMAX = 3, PMAX = 17.75;
const AX_L = 298.5, AX_R = 2392;
const xAB = km => AX_L + km * (AX_R - AX_L) / 440;
const xC = km => 296.3 + km * 4.757;
const yA = v => 635 - v * 1.005;
const zB = z => 1151 + z * 804 / 15;
const zC = z => 2269 + z * 805 / 15;
const cbY_B = n => 1954 - n * 803 / NMAX;
const cbY_C = p => 3074 - p * 805 / PMAX;

function jet(t) {
  let idx = Math.floor(t * 64);
  if (idx < 0) idx = 0;
  if (idx > 63) idx = 63;
  const u = (idx + 1) / 64 * 0.999 + 0.0005;
  const c = v => Math.round(255 * Math.max(0, Math.min(1, v)));
  const r = c(1.5 - Math.abs(4 * u - 3));
  const g = c(1.5 - Math.abs(4 * u - 2));
  const b = c(1.5 - Math.abs(4 * u - 1));
  return 'rgb(' + r + ',' + g + ',' + b + ')';
}
const NS = 'http://www.w3.org/2000/svg';
function make(tag, parent, attrs, txt) {
  const el = document.createElementNS(NS, tag);
  for (const k in attrs) el.setAttribute(k, attrs[k]);
  if (txt !== undefined) el.textContent = txt;
  parent.appendChild(el);
  return el;
}
const FRAME = '#262626';
const FRAME_W = 9.5, TICK_W = 8;

function drawFrame(parent, top, bottom, xTicks, xf, yTicks, yf, yLabels, labelName) {
  const lab = make('g', parent, {});
  
  
  xTicks.forEach(v => {
    const x = xf(v);
    const a = make('line', lab, {x1: x, x2: x, y1: top, y2: top + 26, stroke: FRAME, 'stroke-width': TICK_W});
    
    
    const b = make('line', lab, {x1: x, x2: x, y1: bottom, y2: bottom - 26, stroke: FRAME, 'stroke-width': TICK_W});
    
    
    const t = make('text', lab, {x: x, y: bottom + 104, 'text-anchor': 'middle', class: 'tick'}, String(v));
    
    
  });
  yTicks.forEach((v, i) => {
    const y = yf(v);
    const a = make('line', lab, {x1: AX_L, x2: AX_L + 26, y1: y, y2: y, stroke: FRAME, 'stroke-width': TICK_W});
    
    
    const b = make('line', lab, {x1: AX_R, x2: AX_R - 26, y1: y, y2: y, stroke: FRAME, 'stroke-width': TICK_W});
    
    
    const t = make('text', lab, {x: 271, y: y + 23, 'text-anchor': 'end', class: 'tick'}, String(yLabels[i]));
    
    
  });
  const r = make('rect', parent, {x: AX_L, y: top, width: AX_R - AX_L, height: bottom - top, fill: 'none', stroke: FRAME, 'stroke-width': FRAME_W});
  
  
}

/* ---------- panel (a) ---------- */
const pA = document.getElementById('panelA');
const linePts = curveKm.map((k, i) => [xAB(k), yA(curveNT[i])]);
let curveD = 'M' + linePts[0][0].toFixed(1) + ' ' + linePts[0][1].toFixed(1);
for (let i = 0; i < linePts.length - 1; i++) {
  const p0 = linePts[Math.max(0, i - 1)], p1 = linePts[i], p2 = linePts[i + 1], p3 = linePts[Math.min(linePts.length - 1, i + 2)];
  const c1x = p1[0] + (p2[0] - p0[0]) / 6, c1y = p1[1] + (p2[1] - p0[1]) / 6;
  const c2x = p2[0] - (p3[0] - p1[0]) / 6, c2y = p2[1] - (p3[1] - p1[1]) / 6;
  curveD += 'C' + c1x.toFixed(1) + ' ' + c1y.toFixed(1) + ' ' + c2x.toFixed(1) + ' ' + c2y.toFixed(1) + ' ' + p2[0].toFixed(1) + ' ' + p2[1].toFixed(1);
}
const profile = make('path', pA, {d: curveD, fill: 'none', stroke: '#0072BD', 'stroke-width': 9.5, 'stroke-linejoin': 'round', 'stroke-linecap': 'butt'});


drawFrame(pA, 32, 836, xTicksAB, xAB, yTicksA, yA, yTicksA, 'panel-a');

/* ---------- panel (b) ---------- */
const pB = document.getElementById('panelB');
function plus(km, z, n) {
  const x = xAB(km), y = zB(z);
  const m = make('path', pB, {d: 'M' + (x - 10).toFixed(1) + ' ' + y.toFixed(1) + 'h20M' + x.toFixed(1) + ' ' + (y - 10).toFixed(1) + 'v20', stroke: jet(n / NMAX), 'stroke-width': 7.5, fill: 'none'});
  
  
}
straySources.forEach(p => plus(p[0], p[1], p[2]));
denseRows.forEach(r => r[2].forEach(km => plus(km, r[0], r[1])));
overlaySources.forEach(p => plus(p[0], p[1], p[2]));
drawFrame(pB, 1151, 1955, xTicksAB, xAB, zTicks, zB, zTicks, 'panel-b');
const boxB = make('rect', pB, {x: 388, y: 1162, width: 150, height: 135, fill: '#fff'});


const labB = make('text', pB, {x: 405, y: 1261, class: 'pl'}, '(b)');



/* ---------- panel (c) ---------- */
const pC = document.getElementById('panelC');
const bg = make('rect', pC, {x: AX_L, y: 2269, width: AX_R - AX_L, height: 805, fill: jet(0)});


const ROWS = 31, COLS = 148;
const grid = [];
for (let i = 0; i < ROWS; i++) grid.push(new Array(COLS).fill(0));
heatSegments.forEach(s => {
  const i = Math.round(s[0] * 2);
  const j0 = Math.round(s[1] / 3);
  s[2].forEach((v, k) => { grid[i][j0 + k] = Math.max(grid[i][j0 + k], v); });
});
const heatG = make('g', pC, {'clip-path': 'url(#clipC)', 'shape-rendering': 'crispEdges'});


const SX = 2, SZ = 4;
for (let i = 0; i < ROWS - 1; i++) {
  for (let j = 0; j < COLS - 1; j++) {
    const a = grid[i][j], b = grid[i][j + 1], c = grid[i + 1][j], d = grid[i + 1][j + 1];
    if (a + b + c + d === 0) continue;
    for (let u = 0; u < SX; u++) {
      for (let w = 0; w < SZ; w++) {
        const fx = (u + .5) / SX, fz = (w + .5) / SZ;
        const v = (a * (1 - fx) + b * fx) * (1 - fz) + (c * (1 - fx) + d * fx) * fz;
        const x0 = xC(j * 3 + u * 3 / SX), x1 = xC(j * 3 + (u + 1) * 3 / SX);
        const y0 = zC(i * .5 + w * .5 / SZ), y1 = zC(i * .5 + (w + 1) * .5 / SZ);
        const cell = make('rect', heatG, {x: x0.toFixed(1), y: y0.toFixed(1), width: (x1 - x0 + .6).toFixed(1), height: (y1 - y0 + .6).toFixed(1), fill: jet(v / PMAX)});
        
        
      }
    }
  }
}
const boxC = make('rect', pC, {x: 388, y: 2282, width: 150, height: 135, fill: '#fff'});


const labC = make('text', pC, {x: 405, y: 2380, class: 'pl'}, '(c)');


drawFrame(pC, 2269, 3074, xTicksC, xC, zTicks, zC, zTicks, 'panel-c');

/* ---------- colorbars ---------- */
function colorbar(id, top, bottom, yf, ticks, name) {
  const g = document.getElementById(id);
  const h = (bottom - top) / 64;
  for (let i = 0; i < 64; i++) {
    const r = make('rect', g, {x: 2432, y: (bottom - (i + 1) * h).toFixed(1), width: 80, height: (h + .6).toFixed(1), fill: jet((i + .5) / 64), 'shape-rendering': 'crispEdges'});
    
    
  }
  ticks.forEach(t => {
    const y = yf(parseFloat(t));
    const l = make('line', g, {x1: 2512, x2: 2499, y1: y, y2: y, stroke: FRAME, 'stroke-width': 7});
    
    
    const x = make('text', g, {x: 2541, y: y + 22, class: 'tick'}, t);
    
    
  });
  const f = make('rect', g, {x: 2432, y: top, width: 80, height: bottom - top, fill: 'none', stroke: FRAME, 'stroke-width': FRAME_W});
  
  
}
colorbar('cbarB', 1151, 1954, cbY_B, nTicks, 'colorbar-n');
colorbar('cbarC', 2268, 3074, cbY_C, pTicks, 'colorbar-p');
</script>
</body>
</html>
